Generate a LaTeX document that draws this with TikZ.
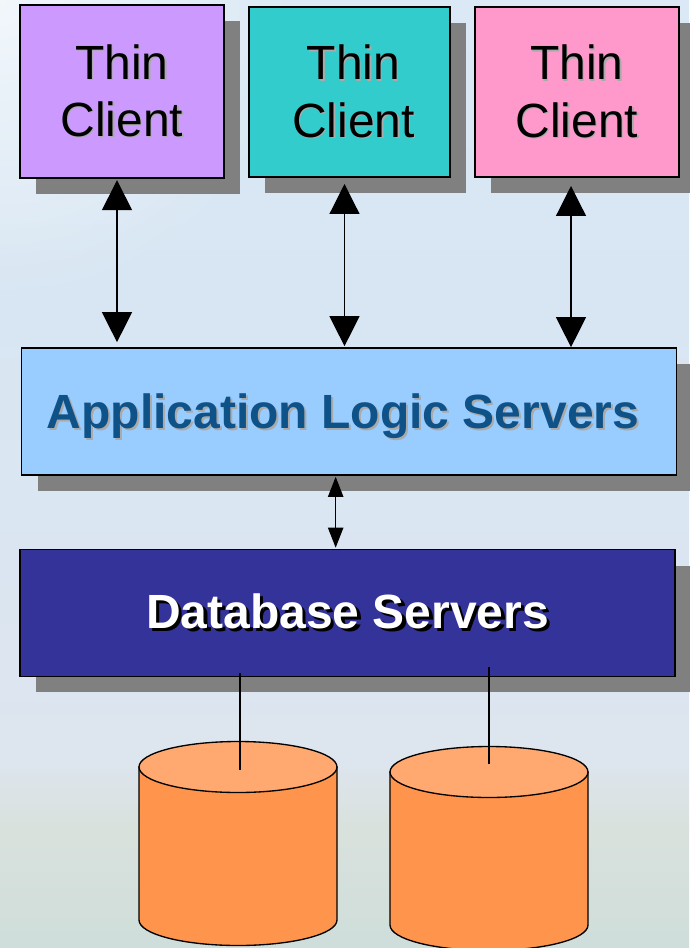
\documentclass[tikz,border=0pt]{standalone}
\usepackage{fontspec}
\setmainfont{Liberation Sans}
\usepackage{tikz}
\usetikzlibrary{positioning}
\usetikzlibrary{arrows.meta}
\usetikzlibrary{shadows}
\usetikzlibrary{fadings}
\definecolor{shadowgray}{RGB}{128,128,128}
\definecolor{thinpurple}{RGB}{204,153,255}
\definecolor{thinteal}{RGB}{51,204,204}
\definecolor{thinpink}{RGB}{255,153,204}
\definecolor{applogic}{RGB}{153,204,255}
\definecolor{applogictext}{RGB}{15,82,135}
\definecolor{textshade}{RGB}{170,170,170}
\definecolor{dbblue}{RGB}{51,51,153}
\definecolor{drumbody}{RGB}{255,148,76}
\definecolor{drumtop}{RGB}{255,168,112}
\definecolor{skytop}{RGB}{218,233,245}
\definecolor{skymid}{RGB}{216,230,243}
\definecolor{skylow}{RGB}{221,229,239}
\definecolor{groundtop}{RGB}{217,225,220}
\definecolor{groundlow}{RGB}{207,222,219}
\tikzfading[name=skyglow,inner color=transparent!35,outer color=transparent!100]
\newcommand{\shadowed}[4]{\makebox[0pt][l]{\hspace*{#2}\raisebox{-#2}{\textcolor{#1}{#4}}}\textcolor{#3}{#4}}
\tikzset{
  box/.style={draw,line width=1.1pt,inner sep=0pt,outer sep=0pt,align=center,
    general shadow={shadow xshift=12pt,shadow yshift=-12pt,fill=shadowgray}},
  thinbox/.style={box,font=\fontsize{36}{43}\selectfont},
  widebox/.style={box,font=\fontsize{36}{43}\selectfont\bfseries,minimum width=491pt,minimum height=95pt},
  drumside/.style={draw,fill=drumbody,line width=1pt},
  drumend/.style={draw,fill=drumtop,line width=1pt},
  link/.style={line width=0.9pt},
  bigarrow/.style={{Triangle[width=22.5pt,length=22.5pt]}-{Triangle[width=22.5pt,length=22.5pt]},line width=0.9pt},
  smallarrow/.style={{Triangle[width=11.5pt,length=15pt]}-{Triangle[width=11.5pt,length=15pt]},line width=0.9pt}
}
\begin{document}
\begin{tikzpicture}[x=0.75pt,y=0.75pt,yscale=-1,xscale=1]
\useasboundingbox (0,0) rectangle (689,948);

%Background
\shade [top color=skytop,bottom color=skymid] (0,0) rectangle (689,300);
\shade [top color=skymid,bottom color=skylow] (0,300) rectangle (689,760);
\shade [top color=skylow,bottom color=groundtop] (0,760) rectangle (689,830);
\shade [top color=groundtop,bottom color=groundlow] (0,830) rectangle (689,948);
\fill [white,path fading=skyglow] (0,0) circle (300);

%Clients
\node (client1) at (122,91.5) [thinbox,fill=thinpurple,minimum width=153pt,minimum height=130pt]
  {\shadowed{textshade}{1pt}{black}{Thin}\\\shadowed{textshade}{1pt}{black}{Client}};
\node (client2) at (349.5,92) [thinbox,fill=thinteal,minimum width=150.75pt,minimum height=127.5pt]
  {\hspace*{6pt}\shadowed{textshade}{1pt}{black}{Thin}\\\hspace*{6pt}\shadowed{textshade}{1pt}{black}{Client}};
\node (client3) at (577,92) [thinbox,fill=thinpink,minimum width=153pt,minimum height=127.5pt]
  {\shadowed{textshade}{1pt}{black}{Thin}\\\shadowed{textshade}{1pt}{black}{Client}};

%Servers
\node (app) at (349,411.5) [widebox,fill=applogic]
  {\rule{0pt}{34pt}\shadowed{textshade}{1.5pt}{applogictext}{Application Logic Servers}\hspace*{9pt}};
\node (db) at (347.5,613) [widebox,fill=dbblue]
  {\shadowed{black}{2.5pt}{white}{Database Servers}};

%Drums
\coordinate (drum1) at (240,770);
\coordinate (drum2) at (489,764);
\draw [drumside] (139,767) -- (139,920) arc (180:0:99 and 25.5) -- (337,767) -- cycle;
\draw [drumend] (238,767) ellipse (99 and 25.5);
\draw [drumside] (390,772) -- (390,925) arc (180:0:99 and 25.5) -- (588,772) -- cycle;
\draw [drumend] (489,772) ellipse (99 and 25.5);

%Arrows
\draw [bigarrow] ([xshift=-3.75pt,yshift=1.5pt]client1.south) -- ([xshift=-3.75pt,yshift=-4.5pt]client1.south |- app.north);
\draw [bigarrow] ([xshift=-3.75pt,yshift=5.25pt]client2.south) -- ([xshift=-3.75pt,yshift=-1.5pt]client2.south |- app.north);
\draw [bigarrow] ([xshift=-4.5pt,yshift=6.75pt]client3.south) -- ([xshift=-4.5pt,yshift=-0.75pt]client3.south |- app.north);
\draw [smallarrow] ([xshift=-10pt,yshift=1.5pt]app.south) -- ([xshift=-10pt,yshift=-1.5pt]app.south |- db.north);

%Links
\draw [link] ([yshift=-2.25pt]drum1 |- db.south) -- (drum1);
\draw [link] ([yshift=-6.75pt]drum2 |- db.south) -- (drum2);
\end{tikzpicture}
\end{document}
